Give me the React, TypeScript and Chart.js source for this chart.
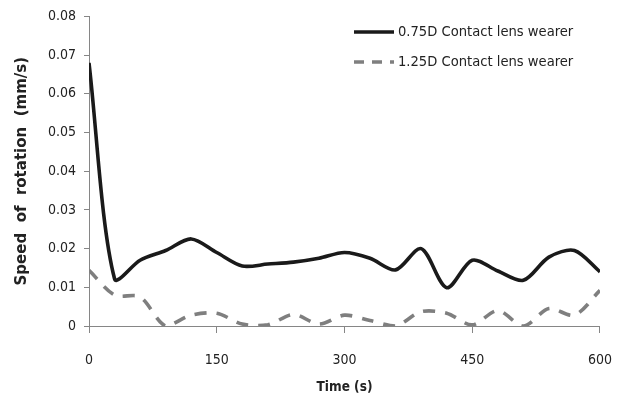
import React, { useEffect, useRef } from "react";
import { Chart, registerables } from "chart.js";

Chart.register(...registerables);

const times = [0, 30, 60, 90, 120, 150, 180, 210, 240, 270, 300, 330, 360, 390, 420, 450, 480, 510, 540, 570, 600];
const lens075 = [0.068, 0.0122, 0.017, 0.0195, 0.0225, 0.019, 0.0155, 0.016, 0.0165, 0.0175, 0.019, 0.0175, 0.0145, 0.020, 0.0099, 0.017, 0.0142, 0.0118, 0.0178, 0.0195, 0.014];
const lens125 = [0.0144, 0.008, 0.0075, 0.0, 0.0028, 0.0033, 0.0005, 0.0003, 0.003, 0.0005, 0.0028, 0.0014, 0.0, 0.0037, 0.0033, 0.0003, 0.004, 0.0, 0.0045, 0.0028, 0.0092];
const seriesNames = ["0.75D Contact lens wearer", "1.25D Contact lens wearer"];
const xTicks = [0, 150, 300, 450, 600];

const FONT = "'DejaVu Sans Condensed', 'DejaVu Sans', sans-serif";
const TITLE_FONT = "'DejaVu Sans', sans-serif";

const legendPlugin = {
  id: "customLegend",
  afterDraw(chart: any) {
    const ctx = chart.ctx;
    ctx.save();
    const items = chart.data.datasets;
    const x0 = 354, x1 = 394;
    const ys = [32, 62];
    items.forEach((ds: any, i: number) => {
      const y = ys[i];
      ctx.beginPath();
      ctx.strokeStyle = ds.borderColor;
      ctx.lineWidth = ds.borderWidth;
      ctx.setLineDash(i === 1 ? [10, 8] : []);
      ctx.moveTo(x0, y);
      ctx.lineTo(x1, y);
      ctx.stroke();
      ctx.setLineDash([]);
      ctx.fillStyle = "#222";
      ctx.font = `14.6px ${FONT}`;
      ctx.textBaseline = "middle";
      ctx.textAlign = "left";
      ctx.fillText(ds.label, 398, y);
    });
    ctx.restore();
  },
};

export default function App() {
  const ref = useRef<HTMLCanvasElement>(null);
  useEffect(() => {
    document.body.style.margin = "0";
    const chart = new Chart(ref.current!, {
      type: "line",
      data: {
        datasets: [
          {
            label: seriesNames[0],
            data: times.map((t, i) => ({ x: t, y: lens075[i] })),
            borderColor: "#1a1a1a",
            borderWidth: 3.6,
            pointRadius: 0,
            tension: 0.3,
          },
          {
            label: seriesNames[1],
            data: times.map((t, i) => ({ x: t, y: lens125[i] })),
            borderColor: "#7f7f7f",
            borderWidth: 3.6,
            borderDash: [12, 10],
            pointRadius: 0,
            tension: 0.3,
          },
        ],
      },
      options: {
        responsive: false,
        animation: false,
        layout: { padding: { top: 14, right: 23, left: 0, bottom: 0 } },
        plugins: { legend: { display: false }, tooltip: { enabled: false } },
        scales: {
          x: {
            type: "linear",
            min: 0,
            max: 600,
            afterBuildTicks: (s: any) => {
              s.ticks = xTicks.map((v) => ({ value: v }));
            },
            afterFit: (s: any) => {
              s.height = 72;
            },
            grid: { drawOnChartArea: false, tickLength: 7, color: "#868686" },
            border: { color: "#868686", width: 1 },
            ticks: { color: "#222", font: { family: FONT, size: 14 }, padding: 19, maxRotation: 0 },
            title: {
              display: true,
              text: "Time (s)",
              color: "#222",
              font: { family: FONT, size: 13.5, weight: "bold" },
              padding: { top: 0, bottom: 2 },
            },
          },
          y: {
            min: 0,
            max: 0.08,
            ticks: {
              stepSize: 0.01,
              color: "#222",
              font: { family: FONT, size: 14 },
              padding: 8,
              callback: (v: any) => (v === 0 ? "0" : Number(v).toFixed(2)),
            },
            afterFit: (s: any) => {
              s.width = 89;
            },
            grid: { drawOnChartArea: false, tickLength: 5, color: "#868686" },
            border: { color: "#868686", width: 1 },
            title: {
              display: true,
              text: "Speed  of  rotation  (mm/s)",
              color: "#222",
              font: { family: TITLE_FONT, size: 15, weight: "bold" },
              padding: { top: 13, bottom: 0 },
            },
          },
        },
      },
      plugins: [legendPlugin],
    });
    return () => chart.destroy();
  }, []);
  return <canvas ref={ref} width={631} height={398} style={{ display: "block" }} />;
}
